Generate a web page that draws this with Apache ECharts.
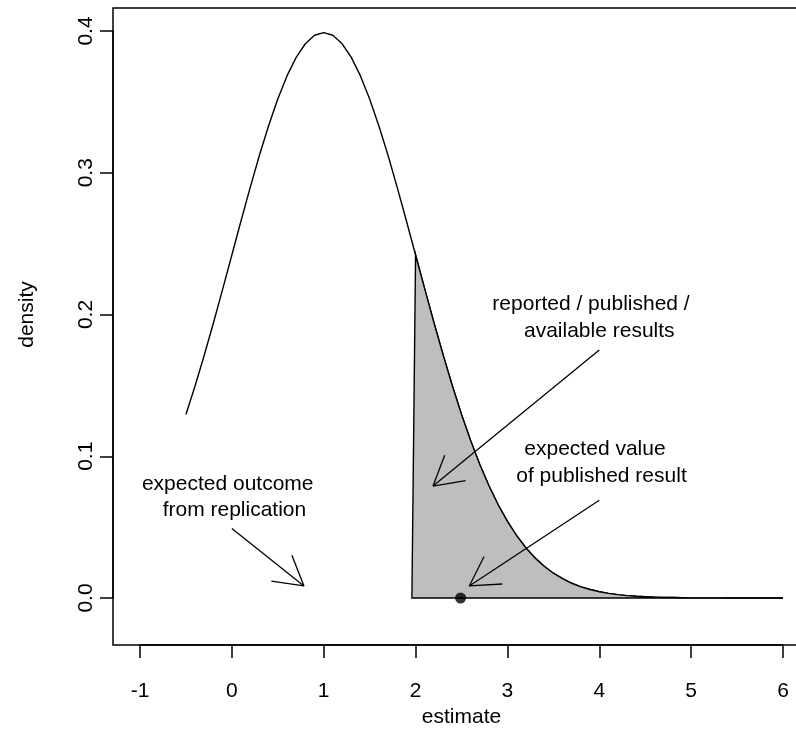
<!DOCTYPE html>
<html>
<head>
<meta charset="utf-8">
<script src="https://cdn.jsdelivr.net/npm/echarts@6/dist/echarts.min.js"></script>
<style>
html,body{margin:0;padding:0;background:#fff;}
#c{width:796px;height:729px;}
</style>
</head>
<body>
<div id="c"></div>
<script>
// ---- data ----
const curveX = [-0.5,-0.4,-0.3,-0.2,-0.1,0.0,0.1,0.2,0.3,0.4,0.5,0.6,0.7,0.8,0.9,1.0,1.1,1.2,1.3,1.4,1.5,1.6,1.7,1.8,1.9,2.0,2.1,2.2,2.3,2.4,2.5,2.6,2.7,2.8,2.9,3.0,3.1,3.2,3.3,3.4,3.5,3.6,3.7,3.8,3.9,4.0,4.1,4.2,4.3,4.4,4.5,4.6,4.7,4.8,4.9,5.0,5.1,5.2,5.3,5.4,5.5,5.6,5.7,5.8,5.9,6.0];
const curveY = [0.1295,0.1497,0.1714,0.1942,0.2179,0.2420,0.2661,0.2897,0.3123,0.3332,0.3521,0.3683,0.3814,0.3910,0.3970,0.3989,0.3970,0.3910,0.3814,0.3683,0.3521,0.3332,0.3123,0.2897,0.2661,0.2420,0.2179,0.1942,0.1714,0.1497,0.1295,0.1109,0.0940,0.0790,0.0656,0.0540,0.0440,0.0355,0.0283,0.0224,0.0175,0.0136,0.0104,0.0079,0.0060,0.0044,0.0033,0.0024,0.0017,0.0012,0.0009,0.0006,0.0004,0.0003,0.0002,0.0001,0.0001,0.0001,0.0001,0.0000,0.0000,0.0000,0.0000,0.0000,0.0000,0.0000];
const shadeStart = 1.96;
const shadeEnd = 6.0;
const openPoint = [[1.0, 0.0]];
const filledPoint = [[2.49, 0.0]];
const arrowFrom = [[0.0, 0.049], [4.0, 0.175], [4.0, 0.069]];
const arrowTo = [[0.785, 0.0085], [2.19, 0.079], [2.585, 0.0085]];
const annText = ['expected outcome', 'from replication', 'reported / published /', 'available results', 'expected value', 'of published result'];
const annX = [-0.045, 0.028, 3.91, 4.0, 3.953, 4.024];
const annY = [0.0804, 0.0621, 0.2074, 0.1884, 0.1051, 0.0861];
const xTicks = {min: -1, max: 6, interval: 1};
const yTicks = {min: 0, max: 0.4, interval: 0.1};
const xTitle = 'estimate';
const yTitle = 'density';

// ---- build library structures ----
const curveData = curveX.map((x, i) => [x, curveY[i]]);
const shadePoly = [[shadeStart, 0]].concat(curveData.filter(p => p[0] >= shadeStart)).concat([[shadeEnd, 0]]);
const arrowData = arrowFrom.map((f, i) => [f[0], f[1], arrowTo[i][0], arrowTo[i][1]]);
const annData = annX.map((x, i) => [x, annY[i]]);

const FONT = '"Liberation Sans", Arial, sans-serif';
const chart = echarts.init(document.getElementById('c'), null, {renderer: 'canvas'});

const option = {
  backgroundColor: '#ffffff',
  animation: false,
  grid: [
    {left: 140, right: 13, top: 31, bottom: 131, show: false, containLabel: false, outerBoundsMode: 'none'},
    {left: 113, width: 760, top: 8, bottom: 84, show: true, containLabel: false, outerBoundsMode: 'none',
      borderColor: '#000', borderWidth: 1.5, backgroundColor: 'transparent'}
  ],
  xAxis: [
    {
      type: 'value', gridIndex: 0, min: xTicks.min, max: xTicks.max, interval: xTicks.interval,
      offset: 47,
      axisLine: {show: true, onZero: false, lineStyle: {color: '#000', width: 1.5}},
      axisTick: {show: true, length: 13, lineStyle: {color: '#000', width: 1.5}},
      axisLabel: {color: '#000', fontSize: 21, fontFamily: FONT, margin: 36},
      splitLine: {show: false},
      name: xTitle, nameLocation: 'middle', nameGap: 60,
      nameTextStyle: {color: '#000', fontSize: 21, fontFamily: FONT}
    },
    {type: 'value', gridIndex: 1, show: false, min: 0, max: 1}
  ],
  yAxis: [
    {
      type: 'value', gridIndex: 0, min: yTicks.min, max: yTicks.max, interval: yTicks.interval,
      offset: 27,
      axisLine: {show: true, onZero: false, lineStyle: {color: '#000', width: 1.5}},
      axisTick: {show: true, length: 13, lineStyle: {color: '#000', width: 1.5}},
      axisLabel: {color: '#000', fontSize: 21, fontFamily: FONT, rotate: 90, margin: 16,
        formatter: v => v.toFixed(1)},
      splitLine: {show: false},
      name: yTitle, nameLocation: 'middle', nameGap: 75, nameRotate: 90,
      nameTextStyle: {color: '#000', fontSize: 21, fontFamily: FONT}
    },
    {type: 'value', gridIndex: 1, show: false, min: 0, max: 1}
  ],
  series: [
    {
      type: 'line', xAxisIndex: 0, yAxisIndex: 0, data: curveData,
      showSymbol: false, symbol: 'none', smooth: false, clip: false,
      lineStyle: {color: '#000', width: 1.4}, z: 2
    },
    {
      type: 'custom', xAxisIndex: 0, yAxisIndex: 0, clip: false, z: 3,
      data: [[shadeStart, 0]],
      renderItem: function (params, api) {
        const pts = shadePoly.map(p => api.coord(p));
        return {type: 'polygon', shape: {points: pts},
          style: {fill: '#bebebe', stroke: '#000', lineWidth: 1.4}};
      }
    },
    {
      type: 'custom', xAxisIndex: 0, yAxisIndex: 0, clip: false, z: 4,
      data: arrowData,
      encode: {x: [0, 2], y: [1, 3]},
      renderItem: function (params, api) {
        const p0 = api.coord([api.value(0), api.value(1)]);
        const p1 = api.coord([api.value(2), api.value(3)]);
        const ang = Math.atan2(p0[1] - p1[1], p0[0] - p1[0]);
        const L = 33, a = Math.PI / 6;
        const h1 = [p1[0] + L * Math.cos(ang + a), p1[1] + L * Math.sin(ang + a)];
        const h2 = [p1[0] + L * Math.cos(ang - a), p1[1] + L * Math.sin(ang - a)];
        const st = {stroke: '#000', lineWidth: 1.3};
        return {type: 'group', children: [
          {type: 'line', shape: {x1: p0[0], y1: p0[1], x2: p1[0], y2: p1[1]}, style: st},
          {type: 'line', shape: {x1: p1[0], y1: p1[1], x2: h1[0], y2: h1[1]}, style: st},
          {type: 'line', shape: {x1: p1[0], y1: p1[1], x2: h2[0], y2: h2[1]}, style: st}
        ]};
      }
    },
    {
      type: 'custom', xAxisIndex: 0, yAxisIndex: 0, clip: false, z: 5,
      data: annData,
      renderItem: function (params, api) {
        const p = api.coord([api.value(0), api.value(1)]);
        return {type: 'text', x: p[0], y: p[1],
          style: {text: annText[params.dataIndex], fill: '#000', font: '21px ' + FONT,
            align: 'center', verticalAlign: 'middle', textAlign: 'center', textVerticalAlign: 'middle'}};
      }
    },
    {
      type: 'scatter', xAxisIndex: 0, yAxisIndex: 0, data: openPoint, clip: false, z: 6,
      symbol: 'emptyCircle', symbolSize: 9,
      itemStyle: {color: '#fff', borderColor: '#000', borderWidth: 1.3}
    },
    {
      type: 'scatter', xAxisIndex: 0, yAxisIndex: 0, data: filledPoint, clip: false, z: 6,
      symbol: 'circle', symbolSize: 11,
      itemStyle: {color: '#000', borderColor: '#000', borderWidth: 0}
    }
  ]
};
chart.setOption(option);
</script>
</body>
</html>
